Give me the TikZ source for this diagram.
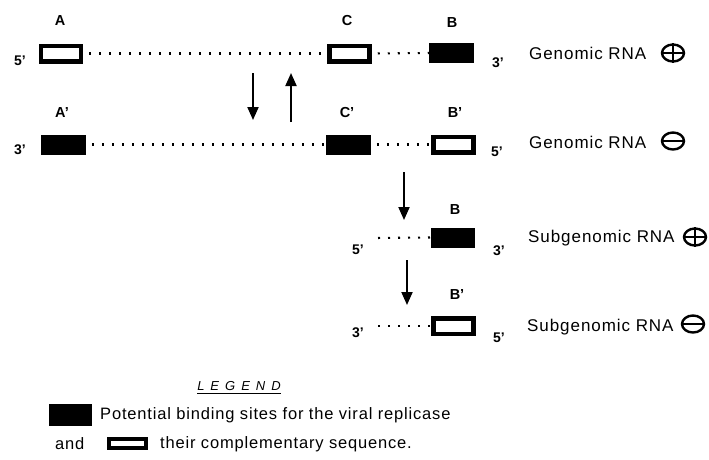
\documentclass[tikz,border=0pt]{standalone}
\usepackage{fontspec}
\setmainfont{Liberation Sans}
\usetikzlibrary{arrows.meta,shapes.geometric}
\tikzset{
  openbox/.style={draw, line width=4.5pt, fill=white, minimum width=40pt, minimum height=15.5pt, inner sep=0pt},
  solidbox/.style={fill=black, minimum width=44.5pt, minimum height=20pt, inner sep=0pt},
  dotline/.style={line width=2.1pt, dash pattern=on 2pt off 8pt, shorten <=6pt},
  seglabel/.style={font=\fontsize{14.5}{16}\selectfont\bfseries, inner sep=0pt},
  endlabel/.style={font=\fontsize{14}{16}\selectfont\bfseries, inner sep=0pt},
  rnatext/.style={font=\fontsize{17}{20}\selectfont\addfontfeature{LetterSpace=5.5}, anchor=west, inner sep=0pt},
  legtext/.style={font=\fontsize{16.5}{19}\selectfont\addfontfeature{LetterSpace=5}, anchor=west, inner sep=0pt},
  sign/.style={ellipse, draw, line width=2.4pt, minimum width=22pt, minimum height=17pt, inner sep=0pt},
  flow/.style={line width=2pt, -{Triangle[width=11pt,length=13pt]}},
}
\begin{document}
\begin{tikzpicture}[x=1pt,y=-1pt]
\useasboundingbox (0,0) rectangle (709,459);

% Row 1 : genomic RNA (+)
\node[openbox]  (A1) at (61,53.5) {};
\node[openbox]  (C1) at (349.5,53.5) {};
\node[solidbox] (B1) at (451.5,53) {};
\node[seglabel] (lA1) at (60,21) {A};
\node[seglabel] (lC1) at (347,21) {C};
\node[seglabel] (lB1) at (452,23) {B};
\node[endlabel] (e51) at (20,61) {5'};
\node[endlabel] (e31) at (498,63) {3'};
\draw[dotline] (A1.east) -- (C1.west);
\draw[dotline] (C1.east) -- (B1.west);
\node[rnatext] (t1) at (529,53) {Genomic RNA};
\node[sign] (s1) at (673,53) {};
\draw[line width=2.2pt] (s1.north) -- (s1.south) (s1.west) -- (s1.east);

% Row 2 : genomic RNA (-)
\node[solidbox] (A2) at (63.5,144.5) {};
\node[solidbox] (C2) at (348.5,144.5) {};
\node[openbox]  (B2) at (453.5,144.5) {};
\node[seglabel] (lA2) at (62,113) {A'};
\node[seglabel] (lC2) at (347,113) {C'};
\node[seglabel] (lB2) at (455,113) {B'};
\node[endlabel] (e32) at (20,150) {3'};
\node[endlabel] (e52) at (497,152) {5'};
\draw[dotline] (A2.east) -- (C2.west);
\draw[dotline] (C2.east) -- (B2.west);
\node[rnatext] (t2) at (529,142) {Genomic RNA};
\node[sign] (s2) at (673,141) {};
\draw[line width=2.2pt] (s2.west) -- (s2.east);

% arrows between genomic strands
\coordinate (d1a) at (253,73);
\coordinate (d1b) at (253,120);
\coordinate (u1a) at (291,122);
\coordinate (u1b) at (291,73);
\draw[flow] (d1a) -- (d1b);
\draw[flow] (u1a) -- (u1b);

% Row 3 : subgenomic RNA (+)
\coordinate (d2a) at (404,172);
\coordinate (d2b) at (404,220);
\draw[flow] (d2a) -- (d2b);
\node[solidbox] (B3) at (453,237.5) {};
\node[seglabel] (lB3) at (455,210) {B};
\node[endlabel] (e53) at (358,250) {5'};
\node[endlabel] (e33) at (499,251) {3'};
\coordinate (o3) at (372,238);
\draw[dotline] (o3) -- (B3.west);
\node[rnatext] (t3) at (528,238) {Subgenomic RNA};
\node[sign] (s3) at (695,237) {};
\draw[line width=2.2pt] (s3.north) -- (s3.south) (s3.west) -- (s3.east);

% Row 4 : subgenomic RNA (-)
\coordinate (d3a) at (407,260);
\coordinate (d3b) at (407,305);
\draw[flow] (d3a) -- (d3b);
\node[openbox]  (B4) at (453.5,326) {};
\node[seglabel] (lB4) at (457,295) {B'};
\node[endlabel] (e34) at (358,333) {3'};
\node[endlabel] (e54) at (499,338) {5'};
\coordinate (o4) at (372,326);
\draw[dotline] (o4) -- (B4.west);
\node[rnatext] (t4) at (527,327) {Subgenomic RNA};
\node[sign] (s4) at (693,324) {};
\draw[line width=2.2pt] (s4.west) -- (s4.east);

% Legend
\node[font=\fontsize{13}{15}\selectfont\itshape, inner sep=0pt] (leg) at (239,386) {L\kern6pt E\kern6pt G\kern6pt E\kern6pt N\kern6pt D};
\draw[line width=1pt] ([yshift=-3pt]leg.south west) -- ([yshift=-3pt]leg.south east);
\node[solidbox, minimum width=43pt, minimum height=22pt] (k1) at (70.5,415) {};
\node[legtext] (k1t) at (100,415) {Potential binding sites for the viral replicase};
\node[legtext] (and) at (55,444) {and};
\node[openbox, minimum width=37pt, minimum height=9pt, line width=4pt] (k2) at (127.5,443) {};
\node[legtext] (k2t) at (160,444) {their complementary sequence.};
\end{tikzpicture}
\end{document}
